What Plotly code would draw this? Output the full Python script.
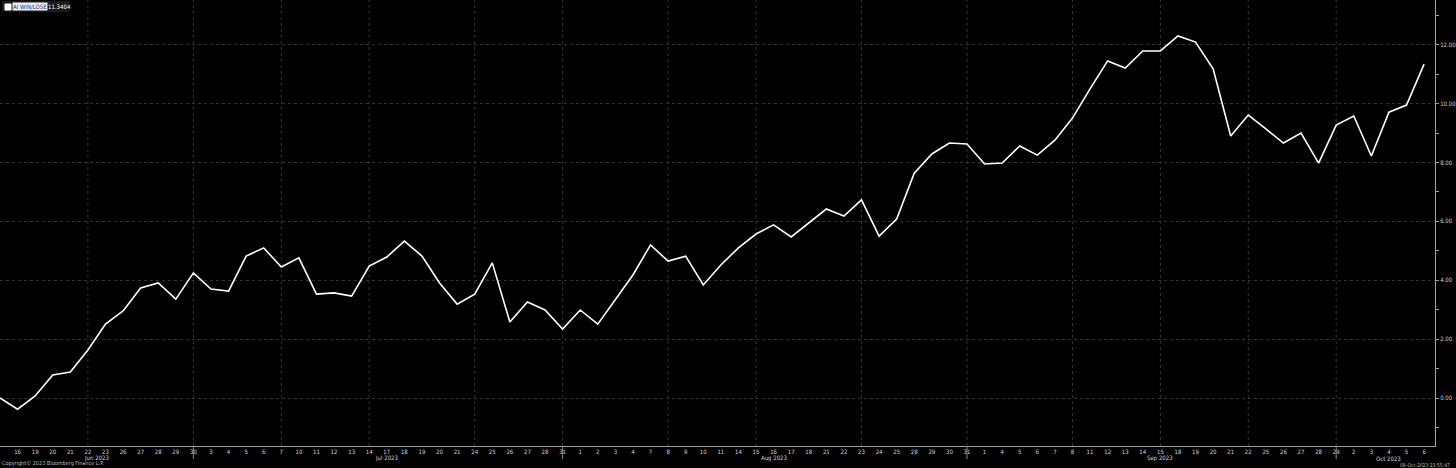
import plotly.graph_objects as go

# ---- data -------------------------------------------------------------
dates = [
    "2023-06-15", "2023-06-16", "2023-06-19", "2023-06-20", "2023-06-21", "2023-06-22", "2023-06-23",
    "2023-06-26", "2023-06-27", "2023-06-28", "2023-06-29", "2023-06-30",
    "2023-07-03", "2023-07-04", "2023-07-05", "2023-07-06", "2023-07-07",
    "2023-07-10", "2023-07-11", "2023-07-12", "2023-07-13", "2023-07-14",
    "2023-07-17", "2023-07-18", "2023-07-19", "2023-07-20", "2023-07-21",
    "2023-07-24", "2023-07-25", "2023-07-26", "2023-07-27", "2023-07-28", "2023-07-31",
    "2023-08-01", "2023-08-02", "2023-08-03", "2023-08-04",
    "2023-08-07", "2023-08-08", "2023-08-09", "2023-08-10", "2023-08-11",
    "2023-08-14", "2023-08-15", "2023-08-16", "2023-08-17", "2023-08-18",
    "2023-08-21", "2023-08-22", "2023-08-23", "2023-08-24", "2023-08-25",
    "2023-08-28", "2023-08-29", "2023-08-30", "2023-08-31", "2023-09-01",
    "2023-09-04", "2023-09-05", "2023-09-06", "2023-09-07", "2023-09-08",
    "2023-09-11", "2023-09-12", "2023-09-13", "2023-09-14", "2023-09-15",
    "2023-09-18", "2023-09-19", "2023-09-20", "2023-09-21", "2023-09-22",
    "2023-09-25", "2023-09-26", "2023-09-27", "2023-09-28", "2023-09-29",
    "2023-10-02", "2023-10-03", "2023-10-04", "2023-10-05", "2023-10-06",
]

win_lose = [
    0.00, -0.38, 0.07, 0.78, 0.88, 1.63, 2.51, 2.96, 3.74, 3.91, 3.36, 4.25,
    3.70, 3.63, 4.82, 5.10, 4.45, 4.76, 3.53, 3.57, 3.46, 4.48,
    4.79, 5.33, 4.82, 3.91, 3.19, 3.53, 4.59, 2.58, 3.26, 2.99, 2.34,
    2.99, 2.51, 3.33, 4.18, 5.20, 4.65, 4.82, 3.84, 4.52,
    5.10, 5.57, 5.88, 5.47, 5.94, 6.42, 6.18, 6.73, 5.50, 6.08,
    7.64, 8.29, 8.66, 8.63, 7.95,
    7.98, 8.56, 8.25, 8.76, 9.51, 10.50, 11.45, 11.21, 11.79, 11.79,
    12.30, 12.09, 11.18, 8.90, 9.61, 9.14, 8.66, 9.00, 7.98, 9.27,
    9.58, 8.22, 9.71, 9.95, 11.3404,
]

grid_dates = ["2023-06-22", "2023-06-30", "2023-07-07", "2023-07-14", "2023-07-24",
              "2023-07-31", "2023-08-08", "2023-08-15", "2023-08-23", "2023-08-31",
              "2023-09-08", "2023-09-15", "2023-09-22", "2023-09-29"]
month_end_dates = ["2023-06-30", "2023-07-31", "2023-08-31", "2023-09-29"]
month_labels = ["Jun 2023", "Jul 2023", "Aug 2023", "Sep 2023", "Oct 2023"]
month_keys = ["2023-06", "2023-07", "2023-08", "2023-09", "2023-10"]

y_ticks = [0, 2, 4, 6, 8, 10, 12]

series_name = "AI WIN/LOSE"
last_value_text = "11.3404"
copyright_text = "Copyright\u00a9 2023 Bloomberg Finance L.P."
timestamp_text = "08-Oct-2023 23:55:47"

# ---- derived ----------------------------------------------------------
x_idx = list(range(len(dates)))
tick_vals = x_idx[1:]
tick_text = [str(int(d[-2:])) for d in dates[1:]]
grid_idx = [dates.index(d) for d in grid_dates]
month_end_idx = [dates.index(d) for d in month_end_dates]

FONT = "DejaVu Sans Condensed, Liberation Sans Narrow, DejaVu Sans, sans-serif"
GRID = "#333333"
TXT = "#d4d4d4"
W, H = 1456, 468
ML, MR, MT, MB = 0, 18, 0, 22
PW, PH = W - ML - MR, H - MT - MB


def py(pix):  # pixel y (from top) -> paper y
    return (PH - pix) / PH


def px(pix):  # pixel x -> paper x
    return pix / PW


fig = go.Figure()
fig.add_trace(go.Scatter(
    x=x_idx, y=win_lose, mode="lines",
    line=dict(color="#ffffff", width=1.6),
    hoverinfo="skip", showlegend=False,
))

shapes = []
for gi in grid_idx:
    shapes.append(dict(type="line", xref="x", yref="paper", x0=gi, x1=gi, y0=0, y1=1,
                       line=dict(color=GRID, width=1, dash="dot"), layer="below"))
for mi in month_end_idx:
    shapes.append(dict(type="line", xref="x", yref="paper", x0=mi, x1=mi, y0=0, y1=py(459),
                       line=dict(color="#8a8a8a", width=1)))
# legend box
shapes.append(dict(type="rect", xref="paper", yref="paper",
                   x0=px(2), x1=px(69), y0=py(12), y1=py(1),
                   fillcolor="#1a1a1a", line=dict(width=0), layer="above"))
shapes.append(dict(type="rect", xref="paper", yref="paper",
                   x0=px(5), x1=px(11), y0=py(10), y1=py(4),
                   fillcolor="#ffffff", line=dict(color="#ffffff", width=1), layer="above"))

annotations = []
annotations.append(dict(text=series_name, xref="paper", yref="paper", x=px(12.5), y=py(6.5),
                        xanchor="left", yanchor="middle", showarrow=False,
                        bgcolor="#f0f0f0", borderpad=0,
                        font=dict(family=FONT, size=6, color="#1b2a6e")))
annotations.append(dict(text=last_value_text, xref="paper", yref="paper", x=px(46), y=py(6.5),
                        xanchor="left", yanchor="middle", showarrow=False,
                        font=dict(family=FONT, size=6, color="#ffffff")))
for key, lab in zip(month_keys, month_labels):
    ids = [i for i, d in enumerate(dates) if d.startswith(key)]
    annotations.append(dict(text=lab, xref="x", yref="paper", x=(ids[0] + ids[-1]) / 2,
                            y=py(458), xanchor="center", yanchor="middle", showarrow=False,
                            font=dict(family=FONT, size=6, color=TXT)))
annotations.append(dict(text=copyright_text, xref="paper", yref="paper", x=0, y=py(464),
                        xanchor="left", yanchor="middle", showarrow=False,
                        font=dict(family=FONT, size=5.5, color="#bdbdbd")))
annotations.append(dict(text=timestamp_text, xref="paper", yref="paper", x=px(W - 1), y=py(465),
                        xanchor="right", yanchor="middle", showarrow=False,
                        font=dict(family=FONT, size=5, color="#bdbdbd")))

fig.update_layout(
    width=W, height=H,
    margin=dict(l=ML, r=MR, t=MT, b=MB, pad=0),
    paper_bgcolor="#000000", plot_bgcolor="#000000",
    showlegend=False,
    shapes=shapes, annotations=annotations,
    xaxis=dict(
        range=[0, 81.62], tickmode="array", tickvals=tick_vals, ticktext=tick_text,
        showgrid=False, zeroline=False, showline=True, linecolor="#a0a0a0", linewidth=1,
        ticks="", ticklen=0,
        tickfont=dict(family=FONT, size=6, color=TXT), fixedrange=True,
    ),
    yaxis=dict(
        range=[-1.63, 13.52], side="right", tickmode="array", tickvals=y_ticks,
        tickformat=".2f", showgrid=True, gridcolor=GRID, griddash="dot", gridwidth=1,
        zeroline=False, showline=True, linecolor="#a0a0a0", linewidth=1,
        ticks="outside", ticklen=3, tickcolor="#a0a0a0",
        minor=dict(dtick=1, tick0=1, ticks="outside", ticklen=3, tickcolor="#a0a0a0", showgrid=False),
        tickfont=dict(family=FONT, size=6, color=TXT), fixedrange=True,
    ),
)

fig.write_html("out.html",
               config={"displayModeBar": False, "staticPlot": True},
               post_script="document.body.style.margin='0px';document.body.style.overflow='hidden';")
